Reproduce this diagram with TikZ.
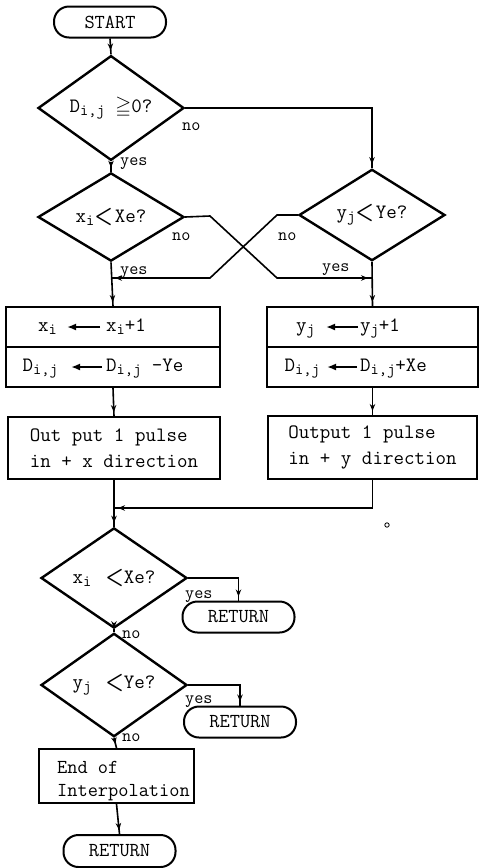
\documentclass[tikz,border=0pt]{standalone}
\usepackage{fontspec}
\usepackage{amssymb}
\usepackage{graphicx}
\usetikzlibrary{arrows.meta,decorations.markings,shapes.geometric}

% lowered, smaller index letters (typewriter style subscripts)
\newcommand\lowtxt[1]{\raisebox{-0.35ex}{\fontsize{16}{16}\selectfont #1}}
% tall bold "less than" used in the decision boxes
\newcommand\lessmark{\raisebox{-0.15ex}{\scalebox{1}[1.25]{\fontsize{22}{22}\selectfont\boldmath$<$}}}

\tikzset{
  terminal/.style={draw, line width=2pt, rectangle, rounded corners=15pt,
    minimum width=112pt, minimum height=31pt, inner sep=0pt,
    font=\ttfamily\fontsize{19.8}{19.8}\selectfont},
  decision/.style={draw, line width=2.4pt, diamond, minimum width=146pt,
    minimum height=74pt, inner sep=0pt, font=\ttfamily\fontsize{20.4}{20.4}\selectfont},
  process/.style={draw, line width=2pt, rectangle, inner sep=0pt,
    align=left, font=\ttfamily\fontsize{20.4}{26}\selectfont},
  txt/.style={inner sep=0pt, text height=8.8pt, text depth=0pt,
    font=\ttfamily\fontsize{20.4}{20.4}\selectfont},
  tag/.style={inner sep=0pt, text height=7.6pt, text depth=0pt, anchor=west,
    font=\ttfamily\fontsize{17.7}{17.7}\selectfont},
  flow/.style={line width=1.6pt, postaction={decorate, decoration={markings,
    mark=at position -4pt with {\arrow{Stealth[length=7pt,width=5.5pt]}}}}},
  assign/.style={line width=2pt, -{Latex[length=9pt,width=7pt]}},
}

\begin{document}
\begin{tikzpicture}[x=1pt,y=-1pt]
\useasboundingbox (0,0) rectangle (480,868);

% ---- terminals
\node[terminal] (start) at (110,22) {START};
\node[terminal] (ret1) at (238.5,617) {RETURN};
\node[terminal] (ret2) at (240,722) {RETURN};
\node[terminal, minimum height=32pt] (ret3) at (119.5,851) {RETURN};

% ---- decisions
\node[decision] (dij) at (111,108) {D\lowtxt{i,j} {\boldmath$\geqq$}0?};
\node[decision] (xq) at (111,217) {x\lowtxt{i}\lessmark\kern2pt Xe?};
\node[decision] (yq) at (372,215) {y\lowtxt{j}\lessmark\kern2pt Ye?};
\node[decision] (xq2) at (114,578) {x\lowtxt{i}\hspace{14pt}\lessmark Xe?};
\node[decision] (yq2) at (114,685) {y\lowtxt{j}\hspace{14pt}\lessmark Ye?};

% ---- update boxes (two rows each)
\node[process, minimum width=214pt, minimum height=40pt] (lb1) at (113,327) {};
\node[process, minimum width=214pt, minimum height=40pt] (lb2) at (113,367) {};
\node[process, minimum width=211pt, minimum height=40pt] (rb1) at (372.5,327) {};
\node[process, minimum width=211pt, minimum height=40pt] (rb2) at (372.5,366.5) {};

\node[txt, anchor=east] (lxa) at (57,327) {x\lowtxt{i}};
\node[txt, anchor=west] (lxb) at (106,327) {x\lowtxt{i}+1};
\node[txt, anchor=east] (lda) at (58,367) {D\lowtxt{i,j}};
\node[txt, anchor=west] (ldb) at (106,367) {D\lowtxt{i,j} -Ye};
\node[txt, anchor=east] (rya) at (315,327) {y\lowtxt{j}};
\node[txt, anchor=west] (ryb) at (360,327) {y\lowtxt{j}+1};
\node[txt, anchor=east] (rda) at (320,367) {D\lowtxt{i,j}};
\node[txt, anchor=west] (rdb) at (360,367) {D\lowtxt{i,j}+Xe};

\draw[assign, shorten <=6pt, shorten >=10pt] (lxb.west) -- (lxb.west -| lxa.east);
\draw[assign, shorten <=4pt, shorten >=13pt] (ldb.west) -- (ldb.west -| lda.east);
\draw[assign, shorten <=2pt, shorten >=11pt] (ryb.west) -- (ryb.west -| rya.east);
\draw[assign, shorten <=3pt, shorten >=7pt] (rdb.west) -- (rdb.west -| rda.east);

% ---- output boxes
\node[process, minimum width=212pt, minimum height=62pt] (lo) at (114,448)
  {Out put 1 pulse\\in + x direction};
\node[process, minimum width=209pt, minimum height=63pt] (ro) at (372.5,447.5)
  {Output 1 pulse\\in + y direction};

% ---- end of interpolation
\node[process, minimum width=155pt, minimum height=54pt] (endbox) at (116.5,776) {};
\node[inner sep=0pt, anchor=west, align=left, font=\ttfamily\fontsize{19.8}{23}\selectfont]
  (endtxt) at (57,781) {End of\\Interpolation};

% ---- bend points of the crossing branches and the join
\coordinate (xb1) at (210,216);
\coordinate (xb2) at (277,278);
\coordinate (rjoin) at (372,278);
\coordinate (yb1) at (277,215);
\coordinate (yb2) at (210,278);
\coordinate (ljoin) at (111,278);
\coordinate (merge) at (114,508);

% ---- connectors
\draw[flow] (start.south) -- (dij.north);
\draw[flow] (dij.south) -- (xq.north);
\draw[flow] (dij.east) -| (yq.north);
\draw[flow] (xq.east) -- (xb1) -- (xb2) -- (rjoin);
\draw[flow] (yq.west) -- (yb1) -- (yb2) -- (ljoin);
\draw[flow] (xq.south) -- (lb1.north);
\draw[flow] (yq.south) -- (rb1.north);
\draw[flow] (lb2.south) -- (lo.north);
\draw[flow] (rb2.south) -- (ro.north);
\draw[flow] (ro.south) |- (merge);
\draw[flow] (lo.south) -- (xq2.north);
\draw[flow] (xq2.east) -| (ret1.north);
\draw[flow] (xq2.south) -- (yq2.north);
\draw[flow] (yq2.east) -| (ret2.north);
\draw[flow] (yq2.south) -- (endbox.north);
\draw[flow] (endbox.south) -- (ret3.north);

% ---- branch labels
\node[tag] (l1) at (120,162) {yes};
\node[tag] (l2) at (182,127) {no};
\node[tag] (l3) at (172,237) {no};
\node[tag] (l4) at (278,237) {no};
\node[tag] (l5) at (120,271) {yes};
\node[tag] (l6) at (322,268) {yes};
\node[tag] (l7) at (185,595) {yes};
\node[tag] (l8) at (122,635) {no};
\node[tag] (l9) at (185,700) {yes};
\node[tag] (l10) at (122,738) {no};

% small ink dot
\draw[line width=0.8pt] (387,525) circle (2.2pt);
\end{tikzpicture}
\end{document}
